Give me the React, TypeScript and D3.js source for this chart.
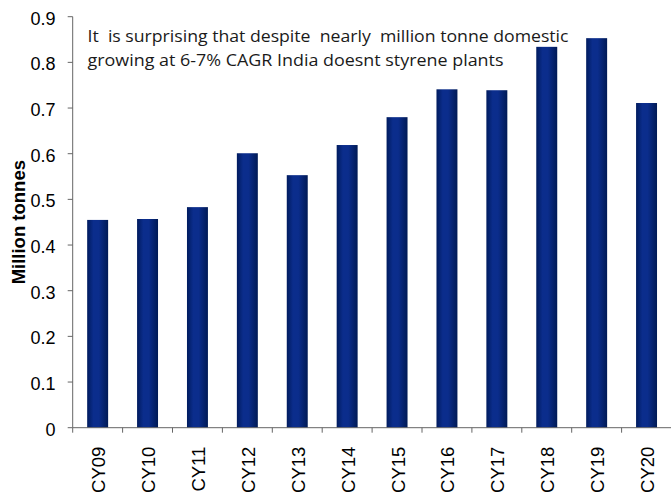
import React from "react";
import * as d3 from "d3";

const categories = ["CY09", "CY10", "CY11", "CY12", "CY13", "CY14", "CY15", "CY16", "CY17", "CY18", "CY19", "CY20"];
const values = [0.455, 0.457, 0.483, 0.601, 0.553, 0.619, 0.68, 0.741, 0.739, 0.834, 0.853, 0.711];
const yTicks = [0, 0.1, 0.2, 0.3, 0.4, 0.5, 0.6, 0.7, 0.8, 0.9];
const yTitle = "Million tonnes";
const noteLines = [
  "It  is surprising that despite  nearly  million tonne domestic",
  "growing at 6-7% CAGR India doesnt styrene plants",
];
const noteWidths = [481, 416];

const W = 671;
const H = 497;
const left = 72.7;
const right = 671.5;
const top = 16.7;
const bottom = 427.7;

export default function App() {
  const x = d3.scaleBand<string>().domain(categories).range([left, right]).paddingInner(0.58).paddingOuter(0.29);
  const y = d3.scaleLinear().domain([0, 0.9]).range([bottom, top]);
  const step = x.step();
  const axisColor = "#666666";
  const boundaries = categories.map((_, i) => left + i * step);

  return (
    <div style={{ position: "fixed", left: 0, top: 0, width: W, height: H, background: "#fff" }}>
      <svg width={W} height={H} style={{ display: "block" }}>
        <defs>
          <linearGradient id="barGrad" x1="0" x2="1" y1="0" y2="0">
            <stop offset="0%" stopColor="#001b5e" />
            <stop offset="30%" stopColor="#0b2d8c" />
            <stop offset="55%" stopColor="#0b2d8c" />
            <stop offset="100%" stopColor="#001a55" />
          </linearGradient>
        </defs>
        {categories.map((c, i) => (
          <rect
            key={c}
            x={x(c)}
            y={y(values[i])}
            width={x.bandwidth()}
            height={bottom - y(values[i])}
            fill="url(#barGrad)"
          />
        ))}
        {/* y axis */}
        <line x1={left} x2={left} y1={top} y2={bottom} stroke={axisColor} strokeWidth={1} />
        {yTicks.map((t) => (
          <g key={t}>
            <line x1={left - 5} x2={left} y1={y(t)} y2={y(t)} stroke={axisColor} strokeWidth={1} />
            <text
              x={55.5}
              y={y(t) + 1.5}
              dy="0.35em"
              textAnchor="end"
              fontFamily="'Liberation Sans', Arial, sans-serif"
              fontSize={18}
              fill="#000"
            >
              {String(t)}
            </text>
          </g>
        ))}
        {/* x axis */}
        <line x1={left} x2={right} y1={bottom} y2={bottom} stroke={axisColor} strokeWidth={1} />
        {boundaries.map((bx, i) => (
          <line key={i} x1={bx} x2={bx} y1={bottom} y2={bottom + 5} stroke={axisColor} strokeWidth={1} />
        ))}
        {categories.map((c) => {
          const cx = (x(c) as number) + x.bandwidth() / 2 + 1;
          return (
            <text
              key={c}
              transform={`translate(${cx},${bottom + 19}) rotate(-90)`}
              textAnchor="end"
              dy="0.35em"
              fontFamily="'Liberation Sans', Arial, sans-serif"
              fontSize={18.5}
              fill="#000"
            >
              {c}
            </text>
          );
        })}
        <text
          transform={`translate(19,${(top + bottom) / 2}) rotate(-90)`}
          textAnchor="middle"
          dy="0.35em"
          fontFamily="'Liberation Sans', Arial, sans-serif"
          fontSize={18.5}
          fontWeight="bold"
          fill="#000"
        >
          {yTitle}
        </text>
        {noteLines.map((l, i) => (
          <text
            key={i}
            x={87.5}
            y={41.5 + i * 24.5}
            fontFamily="'Open Sans', sans-serif"
            fontSize={16.5}
            fill="#1a1a1a"
            textLength={noteWidths[i]}
            lengthAdjust="spacingAndGlyphs"
            style={{ whiteSpace: "pre" }}
          >
            {l}
          </text>
        ))}
      </svg>
    </div>
  );
}
